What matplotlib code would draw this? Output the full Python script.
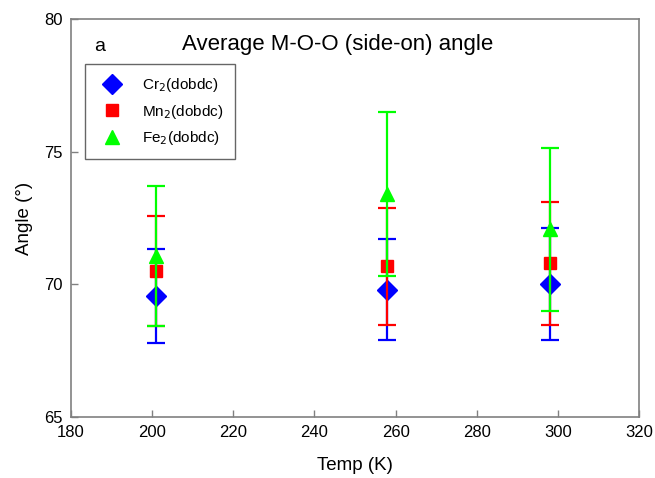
import matplotlib.pyplot as plt
from matplotlib.lines import Line2D

plt.rcParams['font.family'] = ['Liberation Sans', 'DejaVu Sans']

# temperaturas de cada serie
temp_cr = [201, 258, 298]
temp_mn = [201, 258, 298]
temp_fe = [201, 258, 298]

# angulos medios y desviaciones
angle_cr = [69.56, 69.80, 70.03]
err_cr = [1.78, 1.90, 2.11]
angle_mn = [70.49, 70.68, 70.80]
err_mn = [2.07, 2.20, 2.32]
angle_fe = [71.07, 73.40, 72.07]
err_fe = [2.64, 3.08, 3.08]

labels = ['Cr$_2$(dobdc)', 'Mn$_2$(dobdc)', 'Fe$_2$(dobdc)']
colors = ['#0000FF', '#FF0000', '#00FF00']
markers = ['D', 's', '^']
sizes = [10, 9, 10]

fig = plt.figure(figsize=(6.55, 4.78), dpi=100)
ax = fig.add_axes([0.1084, 0.1276, 0.8672, 0.8326])

series = [(temp_cr, angle_cr, err_cr), (temp_mn, angle_mn, err_mn), (temp_fe, angle_fe, err_fe)]
for i, (x, y, e) in enumerate(series):
    ax.errorbar(x, y, yerr=e, fmt=markers[i], color=colors[i], ecolor=colors[i],
                markersize=sizes[i], mec=colors[i], elinewidth=1.6, capsize=6.8,
                capthick=1.6, zorder=2 + i)

ax.set_xlim(180, 320)
ax.set_ylim(65, 80)
ax.set_xticks(range(180, 321, 20))
ax.set_yticks([65, 70, 75, 80])
ax.tick_params(direction='in', length=5, width=1, color='#808080', labelsize=12, pad=6)
for s in ax.spines.values():
    s.set_color('#808080')
    s.set_linewidth(1.2)

ax.set_xlabel('Temp (K)', fontsize=13.5, labelpad=12)
ax.set_ylabel('Angle (°)', fontsize=13.5, labelpad=8)

ax.text(0.04, 0.93, 'a', transform=ax.transAxes, fontsize=14, ha='left', va='center')
ax.text(0.47, 0.935, 'Average M-O-O (side-on) angle', transform=ax.transAxes,
        fontsize=16, ha='center', va='center')

handles = [Line2D([], [], linestyle='none', marker=markers[i], color=colors[i],
                  markersize=sizes[i], mec=colors[i]) for i in range(3)]
leg = ax.legend(handles, labels, loc='upper left', bbox_to_anchor=(0.0246, 0.887),
                borderaxespad=0, fontsize=11, frameon=True, fancybox=False,
                handletextpad=0.9, labelspacing=0.55, borderpad=0.8, handlelength=2.0)
leg.get_frame().set_edgecolor('#404040')
leg.get_frame().set_linewidth(1.0)

fig.savefig('out.png', dpi=100)
